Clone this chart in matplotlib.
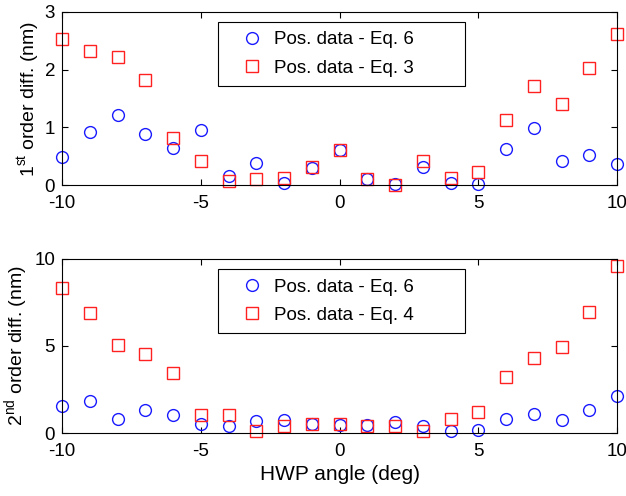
import matplotlib
matplotlib.use("Agg")
import matplotlib.pyplot as plt

plt.rcParams["font.family"] = ["Liberation Sans", "DejaVu Sans"]
plt.rcParams["mathtext.fontset"] = "custom"
plt.rcParams["mathtext.rm"] = "Liberation Sans"
plt.rcParams["axes.unicode_minus"] = False
plt.rcParams["font.size"] = 13.5

# HWP angle steps (deg)
angles = list(range(-10, 11))

# 1st order differences (nm)
first_eq6 = [0.49, 0.92, 1.21, 0.88, 0.65, 0.95, 0.16, 0.39, 0.03, 0.29, 0.61,
             0.10, 0.01, 0.31, 0.03, 0.01, 0.62, 0.99, 0.42, 0.52, 0.36]
first_eq3 = [2.53, 2.32, 2.21, 1.82, 0.81, 0.42, 0.07, 0.10, 0.13, 0.31, 0.61,
             0.10, 0.00, 0.42, 0.12, 0.22, 1.12, 1.72, 1.40, 2.02, 2.61]

# 2nd order differences (nm)
second_eq6 = [1.56, 1.85, 0.83, 1.35, 1.06, 0.54, 0.38, 0.69, 0.73, 0.54, 0.48,
              0.44, 0.63, 0.40, 0.12, 0.19, 0.83, 1.12, 0.77, 1.35, 2.13]
second_eq4 = [8.33, 6.87, 5.04, 4.54, 3.42, 1.02, 1.02, 0.12, 0.38, 0.54, 0.52,
              0.42, 0.42, 0.12, 0.79, 1.23, 3.23, 4.31, 4.96, 6.94, 9.58]

fig = plt.figure(figsize=(6.26, 4.96), dpi=100)
ax1 = fig.add_axes([0.099, 0.627, 0.887, 0.349])
ax2 = fig.add_axes([0.099, 0.127, 0.887, 0.351])

panels = [
    (ax1, first_eq6, first_eq3, "Pos. data - Eq. 3", [0, 3], [0, 1, 2, 3],
     "1$^{\\rm st}$ order diff. (nm)"),
    (ax2, second_eq6, second_eq4, "Pos. data - Eq. 4", [0, 10], [0, 5, 10],
     "2$^{\\rm nd}$ order diff. (nm)"),
]

for ax, circ, sq, sq_label, ylim, yticks, ylabel in panels:
    ax.plot(angles, circ, "o", ls="none", mfc="none", mec="#1a1aff",
            ms=8.5, mew=1.0, label="Pos. data - Eq. 6", clip_on=False)
    ax.plot(angles, sq, "s", ls="none", mfc="none", mec="#ff2020",
            ms=8, mew=1.0, label=sq_label, clip_on=False)
    ax.set_xlim(-10, 10)
    ax.set_ylim(*ylim)
    ax.set_xticks([-10, -5, 0, 5, 10])
    ax.set_yticks(yticks)
    ax.tick_params(direction="in", top=True, right=True, length=4, width=0.8)
    ax.tick_params(axis="x", pad=7)
    ax.tick_params(axis="y", pad=5)
    ax.set_ylabel(ylabel, fontsize=14, labelpad=2)
    leg = ax.legend(loc="upper left", bbox_to_anchor=(0.281, 0.55, 0.445, 0.392),
                    mode="expand", borderaxespad=0, fancybox=False,
                    framealpha=1, edgecolor="black", fontsize=13.5,
                    handletextpad=-0.13, labelspacing=0.6, borderpad=0.5,
                    handlelength=2.6)
    leg.get_frame().set_linewidth(0.8)

ax2.set_xlabel("HWP angle (deg)", fontsize=15)

fig.savefig("out.png", dpi=100)
